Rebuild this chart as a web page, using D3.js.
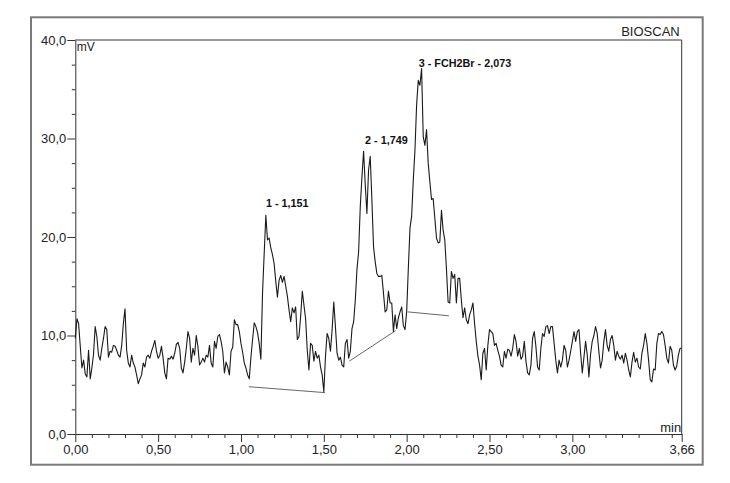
<!DOCTYPE html>
<html><head><meta charset="utf-8">
<script src="https://cdn.jsdelivr.net/npm/d3@7/dist/d3.min.js"></script>
<style>html,body{margin:0;padding:0;background:#fff;}svg{display:block;}</style>
</head><body>
<svg id="c" width="730" height="483"></svg>
<script>
// ---- data ----
const timeStart = 0;      // min
const timeStep = 0.01;    // min, detector sampling interval
const signal = [
9.7,11.7,11.2,8.9,6.7,7.5,6.1,5.8,8.5,5.6,
6.7,8.1,10.9,9.9,8.0,7.5,8.7,9.7,10.9,10.6,
7.8,8.4,8.3,9.0,8.9,8.5,8.0,7.8,9.0,11.2,
12.7,8.5,7.2,6.8,8.0,7.2,6.8,6.0,5.1,5.6,
6.0,7.2,6.8,7.8,8.0,7.7,8.4,8.9,9.5,8.4,
7.7,8.0,8.9,7.7,6.2,5.6,7.7,7.6,7.9,7.6,
8.2,9.1,9.3,8.7,6.7,6.2,7.3,8.7,10.4,9.7,
7.3,8.7,8.0,10.0,8.9,7.0,7.3,7.7,7.3,8.0,
7.8,9.0,7.2,6.8,9.4,8.7,9.9,10.1,9.4,8.4,
6.2,7.3,6.8,6.0,
8.4,8.8,11.6,11.1,11.1,10.4,
9.2,8.3,7.2,6.7,6.0,5.6,7.8,9.6,11.3,10.9,
10.3,9.2,7.6,14.3,18.3,22.2,19.7,19.9,18.9,18.2,
17.3,15.5,13.9,15.6,16.1,15.4,16.0,15.0,14.0,12.6,
11.4,12.8,12.3,12.9,9.6,9.9,11.9,14.5,13.1,11.7,
8.5,6.5,9.2,9.0,7.4,8.4,7.7,8.0,6.8,6.0,
4.3,7.9,10.2,9.7,8.4,10.6,13.4,10.9,8.2,7.5,
7.8,7.0,6.8,9.2,9.6,7.7,8.4,10.7,11.4,13.6,
16.7,18.5,23.1,26.1,28.7,25.3,22.4,26.8,28.2,23.8,
19.0,17.5,16.3,16.0,16.0,16.1,14.3,12.4,12.6,14.5,
13.3,13.3,10.4,12.1,10.7,11.8,12.4,12.9,11.0,10.6,
12.4,16.8,20.9,22.1,25.8,28.8,33.4,35.9,35.4,37.1,
30.2,29.3,30.9,27.5,25.6,23.8,23.9,21.9,19.9,19.4,
19.5,22.7,20.7,19.7,16.8,13.4,13.3,16.5,15.8,16.2,
13.3,15.8,15.8,13.6,11.8,12.8,11.6,11.2,12.1,12.6,
13.3,11.2,9.4,7.9,7.0,5.5,8.2,8.7,6.5,9.0,
10.6,10.4,10.2,9.0,9.2,8.5,7.9,7.0,6.8,8.4,
7.7,8.6,8.5,7.9,8.7,10.1,9.4,7.9,8.7,7.6,
7.9,9.4,7.4,6.2,6.0,7.0,9.7,10.4,
8.9,6.8,6.5,8.7,10.2,9.9,10.9,11.0,10.2,10.9,10.9,9.2,
7.5,6.2,7.5,6.8,7.5,9.0,8.5,6.8,7.5,8.4,
9.4,10.4,9.4,10.4,10.6,8.2,6.2,7.8,9.4,8.0,
5.8,8.1,9.4,10.0,10.9,10.2,8.4,6.7,7.5,9.4,
10.6,9.0,8.4,9.6,10.0,9.0,7.5,8.4,7.9,7.6,
8.0,7.2,8.2,7.5,6.5,5.8,7.3,8.3,7.3,7.7,
6.8,6.6,8.2,9.0,10.2,9.2,7.5,5.5,5.3,6.6,
6.5,9.2,10.2,10.1,10.4,10.1,9.0,7.7,7.2,8.9,
8.5,7.0,6.5,6.9,8.0,8.7,8.7
];
// integration baselines: [start time, start mV, end time, end mV]
const baseStartT = [1.048, 1.654, 2.006];
const baseStartV = [4.8, 7.4, 12.4];
const baseEndT   = [1.507, 1.934, 2.255];
const baseEndV   = [4.2, 10.5, 12.0];
// peak annotations
const peakRT = [1.151, 1.749, 2.073];
const peakLabels = ["1 - 1,151", "2 - 1,749", "3 - FCH2Br - 2,073"];
const peakLabelMV = [23.0, 29.4, 37.3];
// axes
const xMajorTicks = [0, 0.5, 1.0, 1.5, 2.0, 2.5, 3.0, 3.66];
const xTickLabels = ["0,00","0,50","1,00","1,50","2,00","2,50","3,00","3,66"];
const yMajorTicks = [0, 10, 20, 30, 40];
const yTickLabels = ["0,0","10,0","20,0","30,0","40,0"];

// ---- drawing ----
const svg = d3.select("#c");
const L = 75.3, R = 681.7, T = 40, B = 434;
const x = d3.scaleLinear().domain([0, 3.66]).range([L, R]);
const y = d3.scaleLinear().domain([0, 40]).range([B, T]);
const font = "'Liberation Sans', Arial, sans-serif";
const txt = "#222";

// outer frame
svg.append("rect").attr("x", 31).attr("y", 17.3).attr("width", 671.7).attr("height", 447.4)
  .attr("fill", "none").attr("stroke", "#7a7a7a").attr("stroke-width", 2);

// plot frame top & right
svg.append("path").attr("d", `M${L},${T}H${R}V${B}`)
  .attr("fill", "none").attr("stroke", "#333").attr("stroke-width", 1);

// y axis
const yMinor = d3.range(0, 40.01, 2.5).filter(v => v % 10 !== 0);
const yAxis = d3.axisLeft(y).tickValues(yMajorTicks).tickSize(8).tickSizeOuter(0)
  .tickFormat((d, i) => yTickLabels[i]).tickPadding(1);
const gy = svg.append("g").attr("transform", `translate(${L},0)`).call(yAxis);
gy.select(".domain").attr("stroke", "#333");
gy.selectAll(".tick line").attr("stroke", "#333");
gy.selectAll(".tick text").attr("font-family", font).attr("font-size", 13).attr("fill", txt).attr("dy", "0.34em");
const gy2 = svg.append("g").attr("transform", `translate(${L},0)`)
  .call(d3.axisLeft(y).tickValues(yMinor).tickSize(3.5).tickFormat(""));
gy2.select(".domain").remove();
gy2.selectAll(".tick line").attr("stroke", "#333");

// x axis
const xMinor = d3.range(1, 37).map(i => i / 10).filter(v => Math.abs(v * 2 - Math.round(v * 2)) > 1e-6);
const xAxis = d3.axisBottom(x).tickValues(xMajorTicks).tickSize(8).tickSizeOuter(0)
  .tickFormat((d, i) => xTickLabels[i]).tickPadding(3);
const gx = svg.append("g").attr("transform", `translate(0,${B})`).call(xAxis);
gx.select(".domain").attr("stroke", "#333");
gx.selectAll(".tick line").attr("stroke", "#333");
gx.selectAll(".tick text").attr("font-family", font).attr("font-size", 13).attr("fill", txt);
const gx2 = svg.append("g").attr("transform", `translate(0,${B})`)
  .call(d3.axisBottom(x).tickValues(xMinor).tickSize(4).tickFormat(""));
gx2.select(".domain").remove();
gx2.selectAll(".tick line").attr("stroke", "#333");

// unit labels
svg.append("text").attr("x", L + 1.5).attr("y", 50.5).text("mV")
  .attr("font-family", font).attr("font-size", 12).attr("fill", txt);
svg.append("text").attr("x", R - 0.5).attr("y", 432).attr("text-anchor", "end").text("min")
  .attr("font-family", font).attr("font-size", 13).attr("fill", txt);
svg.append("text").attr("x", R - 2).attr("y", 36.3).attr("text-anchor", "end").text("BIOSCAN")
  .attr("font-family", font).attr("font-size", 13).attr("fill", txt);

// baselines
svg.append("g").selectAll("line").data(baseStartT).join("line")
  .attr("x1", (d, i) => x(d)).attr("y1", (d, i) => y(baseStartV[i]))
  .attr("x2", (d, i) => x(baseEndT[i])).attr("y2", (d, i) => y(baseEndV[i]))
  .attr("stroke", "#555").attr("stroke-width", 0.9);

// trace
const pts = signal.map((v, i) => [timeStart + i * timeStep, v]).filter(p => p[0] <= 3.66 + 1e-9);
svg.append("path").datum(pts)
  .attr("d", d3.line().x(d => x(d[0])).y(d => y(d[1])))
  .attr("fill", "none").attr("stroke", "#1a1a1a").attr("stroke-width", 1.1).attr("stroke-linejoin", "round");

// peak labels
svg.append("g").selectAll("text").data(peakLabels).join("text")
  .attr("x", (d, i) => x(peakRT[i])).attr("y", (d, i) => y(peakLabelMV[i]))
  .text(d => d).attr("font-family", font).attr("font-size", 10.8).attr("font-weight", "bold").attr("fill", "#111");
</script>
</body></html>
